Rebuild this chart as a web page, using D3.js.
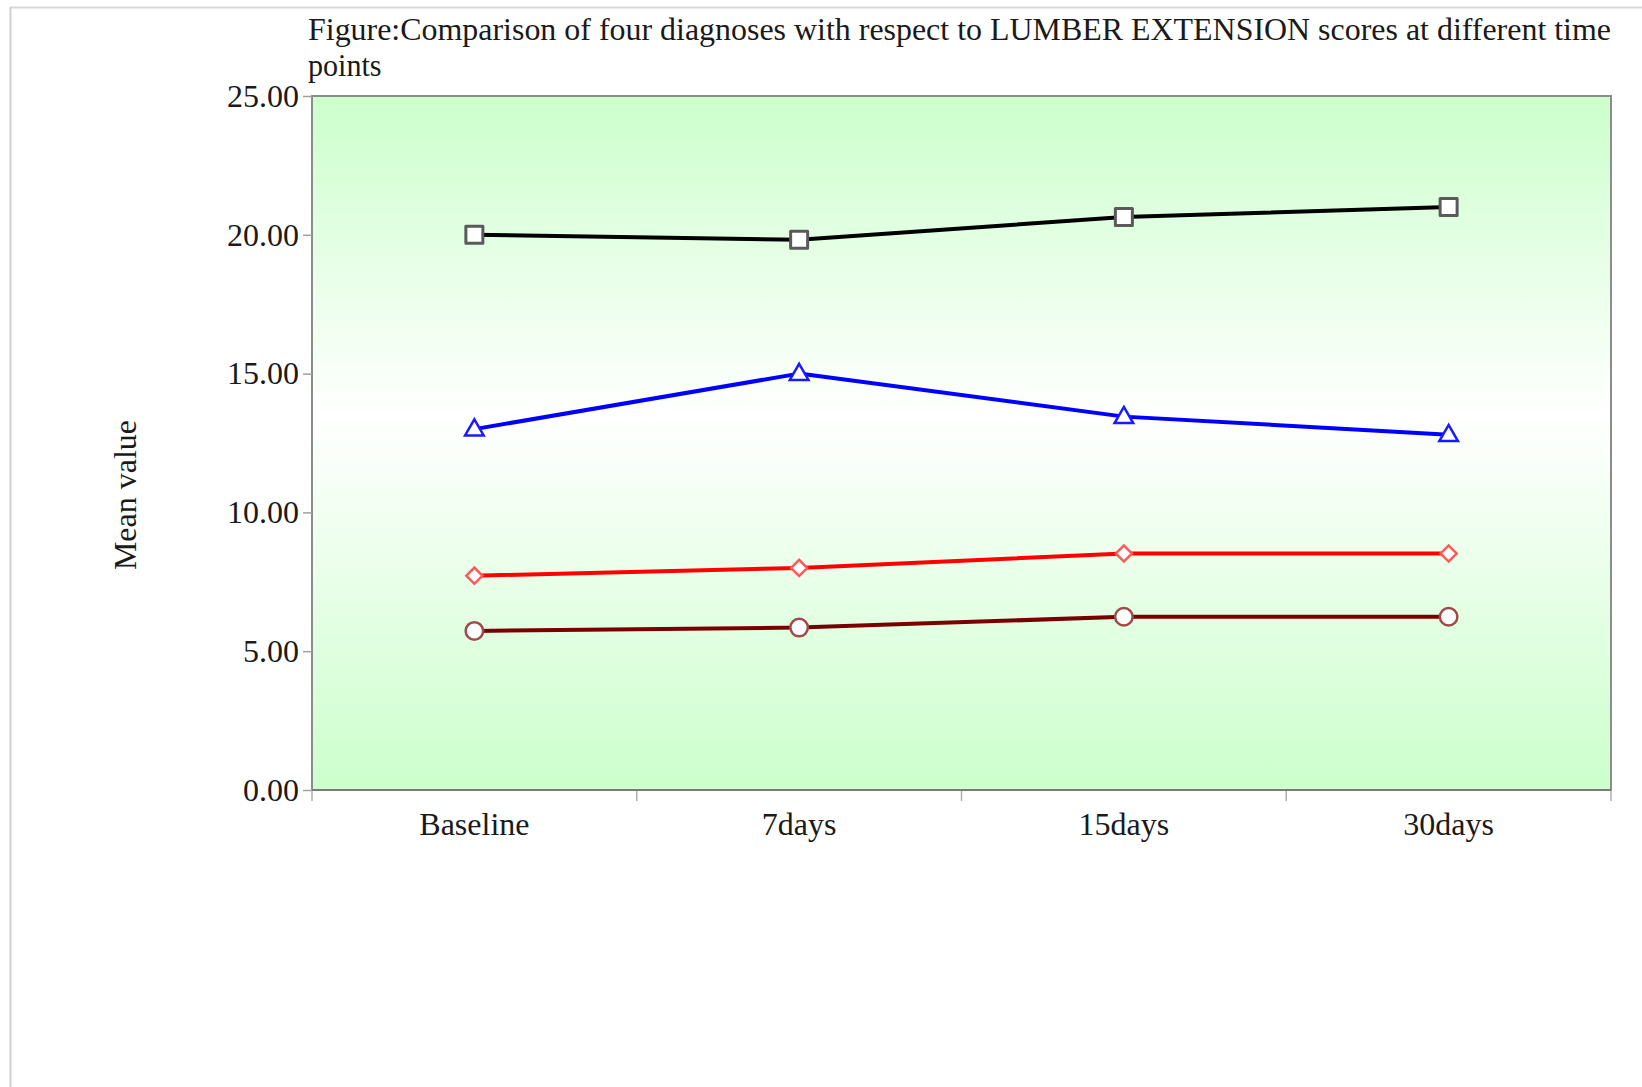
<!DOCTYPE html>
<html>
<head>
<meta charset="utf-8">
<script src="https://cdn.jsdelivr.net/npm/d3@7"></script>
<style>
  html, body { margin: 0; padding: 0; background: #fff; }
  svg { display: block; }
  text { font-family: "Liberation Serif", "DejaVu Serif", serif; fill: #1a1a1a; }
</style>
</head>
<body>
<svg id="chart" width="1642" height="1087"></svg>
<script>
// Time points on the x axis
const timePoints = ["Baseline", "7days", "15days", "30days"];

// Mean LUMBER EXTENSION scores for each diagnosis group
const diagnosis1 = [20.0, 19.82, 20.64, 21.0];   // black, square markers
const diagnosis2 = [13.0, 15.0, 13.45, 12.8];    // blue, triangle markers
const diagnosis3 = [7.72, 8.0, 8.52, 8.52];      // red, diamond markers
const diagnosis4 = [5.73, 5.85, 6.24, 6.24];     // maroon, circle markers

// Y axis ticks
const yTicks = [0, 5, 10, 15, 20, 25];

const titleLines = [
  "Figure:Comparison of four diagnoses with respect to LUMBER EXTENSION scores at different time",
  "points"
];

const series = [
  { values: diagnosis1, line: "#000000", stroke: "#5a5a5a", shape: "square" },
  { values: diagnosis2, line: "#0000ff", stroke: "#1a1aff", shape: "triangle" },
  { values: diagnosis3, line: "#ff0000", stroke: "#ff5a5a", shape: "diamond" },
  { values: diagnosis4, line: "#7a0000", stroke: "#a04a4a", shape: "circle" }
];

const svg = d3.select("#chart");

// Outer frame (top and left edges)
svg.append("line").attr("x1", 10).attr("x2", 1642).attr("y1", 7.5).attr("y2", 7.5)
  .attr("stroke", "#d8d8d8").attr("stroke-width", 2);
svg.append("line").attr("x1", 10.5).attr("x2", 10.5).attr("y1", 7).attr("y2", 1087)
  .attr("stroke", "#d0d0d0").attr("stroke-width", 2);

const plot = { left: 312, right: 1611, top: 96, bottom: 790 };

const x = d3.scaleBand().domain(timePoints).range([plot.left, plot.right]).padding(0);
const y = d3.scaleLinear().domain([0, 25]).range([plot.bottom, plot.top]);

// Background gradient: green at edges, white towards the middle
const defs = svg.append("defs");
const grad = defs.append("linearGradient").attr("id", "bgGrad")
  .attr("x1", 0).attr("x2", 0).attr("y1", 0).attr("y2", 1);
grad.append("stop").attr("offset", "0%").attr("stop-color", "#ccffcc");
grad.append("stop").attr("offset", "46%").attr("stop-color", "#ffffff");
grad.append("stop").attr("offset", "100%").attr("stop-color", "#ccffcc");

svg.append("rect")
  .attr("x", plot.left).attr("y", plot.top)
  .attr("width", plot.right - plot.left).attr("height", plot.bottom - plot.top)
  .attr("fill", "url(#bgGrad)")
  .attr("stroke", "#8c8c8c").attr("stroke-width", 2);

// Y axis
const yAxis = d3.axisLeft(y).tickValues(yTicks).tickFormat(d3.format(".2f"))
  .tickSize(9).tickPadding(4);
const gy = svg.append("g").attr("transform", `translate(${plot.left},0)`).call(yAxis);
gy.select(".domain").remove();
gy.selectAll(".tick line").attr("stroke", "#a0a0a0").attr("stroke-width", 1.5);
gy.selectAll(".tick text").attr("font-size", 32).attr("fill", "#1a1a1a")
  .style("font-family", "'Liberation Serif', serif");

// X axis: labels at band centres, ticks at band boundaries
const xAxis = d3.axisBottom(x).tickSize(0).tickPadding(0);
const gx = svg.append("g").attr("transform", `translate(0,${plot.bottom})`).call(xAxis);
gx.select(".domain").remove();
gx.selectAll(".tick text").attr("font-size", 32).attr("fill", "#1a1a1a")
  .attr("dy", 0).attr("y", 45)
  .style("font-family", "'Liberation Serif', serif");

const boundaries = timePoints.map(d => x(d)).concat([x.range()[1]]);
svg.append("g").selectAll("line").data(boundaries).join("line")
  .attr("x1", d => d).attr("x2", d => d)
  .attr("y1", plot.bottom).attr("y2", plot.bottom + 11)
  .attr("stroke", "#b0b0b0").attr("stroke-width", 1.5);

// Bottom axis line over the frame
svg.append("line").attr("x1", plot.left).attr("x2", plot.right)
  .attr("y1", plot.bottom).attr("y2", plot.bottom)
  .attr("stroke", "#7a7a7a").attr("stroke-width", 2);

// Lines
const lineGen = d3.line()
  .x((d, i) => x(timePoints[i]) + x.bandwidth() / 2)
  .y(d => y(d));

series.forEach(s => {
  svg.append("path").datum(s.values)
    .attr("d", lineGen)
    .attr("fill", "none")
    .attr("stroke", s.line)
    .attr("stroke-width", 4)
    .attr("stroke-linejoin", "round");
});

// Markers
const symbolTypes = {
  square: d3.symbolSquare,
  triangle: d3.symbolTriangle,
  diamond: d3.symbolSquare,   // rotated 45 degrees below
  circle: d3.symbolCircle
};
const symbolSizes = { square: 289, triangle: 150, diamond: 130, circle: 240 };

series.forEach(s => {
  const sym = d3.symbol().type(symbolTypes[s.shape]).size(symbolSizes[s.shape]);
  svg.append("g").selectAll("path").data(s.values).join("path")
    .attr("transform", (d, i) => {
      const cx = x(timePoints[i]) + x.bandwidth() / 2;
      let cy = y(d);
      if (s.shape === "triangle") cy += 1;
      return `translate(${cx},${cy})` + (s.shape === "diamond" ? " rotate(45)" : "");
    })
    .attr("d", sym)
    .attr("fill", "#ffffff")
    .attr("stroke", s.stroke)
    .attr("stroke-width", s.shape === "square" ? 3 : 2.5)
    .attr("stroke-linejoin", s.shape === "square" ? "round" : "miter");
});

// Title
const title = svg.append("g");
title.append("text").attr("x", 308).attr("y", 40).attr("font-size", 32)
  .attr("textLength", 1303).attr("lengthAdjust", "spacingAndGlyphs")
  .text(titleLines[0]);
title.append("text").attr("x", 308).attr("y", 76).attr("font-size", 32)
  .attr("transform", "translate(308,0) scale(0.94,1) translate(-308,0)")
  .text(titleLines[1]);

// Y axis label
svg.append("text")
  .attr("transform", "translate(136,495) rotate(-90)")
  .attr("text-anchor", "middle")
  .attr("font-size", 32)
  .text("Mean value");
</script>
</body>
</html>
